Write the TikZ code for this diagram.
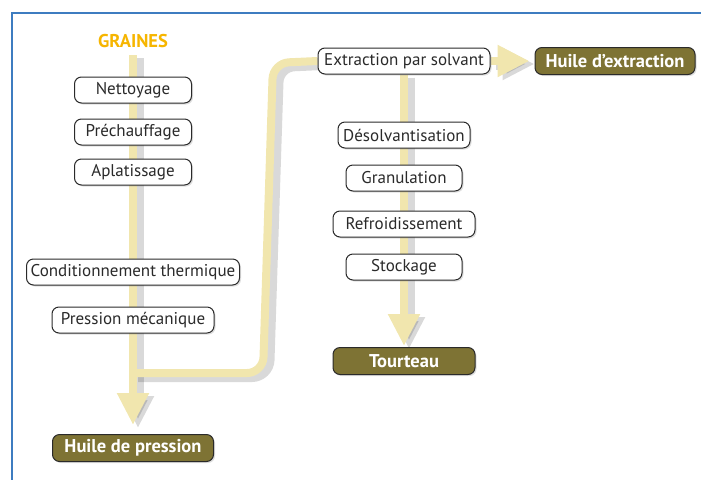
\documentclass[tikz,border=0pt]{standalone}
\usepackage{fontspec}
\setmainfont{PT Sans}
\usetikzlibrary{positioning}
\usetikzlibrary{arrows.meta}
\usetikzlibrary{shadows}
\usetikzlibrary{backgrounds}

\definecolor{pipe}{HTML}{F1E6AE}
\definecolor{olive}{HTML}{7E7334}
\definecolor{grainorange}{HTML}{F6B500}
\definecolor{frameblue}{HTML}{3D7CC0}
\definecolor{boxline}{HTML}{2A2A2A}

\tikzset{
  stage/.style={draw=boxline, line width=1pt, fill=white, rounded corners=7pt, inner sep=2pt,
    minimum height=26pt, text=boxline, font=\fontsize{17}{20}\selectfont,
    drop shadow={shadow xshift=1.5pt, shadow yshift=-1.5pt, opacity=0.25}},
  product/.style={draw=boxline, line width=1pt, fill=olive, rounded corners=7pt, inner sep=2pt,
    minimum height=27pt, text=white, font=\bfseries\fontsize{18.5}{21}\selectfont,
    drop shadow={shadow xshift=1.5pt, shadow yshift=-1.5pt, opacity=0.25}},
  pipeline/.style={draw=pipe, line width=8pt},
  pipeshade/.style={draw=black, opacity=0.15, line width=12pt,
    transform canvas={xshift=5pt, yshift=-3pt}},
  bigtip/.style={-{Triangle[length=32pt, width=30pt]}}
}

\begin{document}
\begin{tikzpicture}[x=1pt, y=-1pt, node distance=42pt]
  \useasboundingbox (0,0) rectangle (701,480);
  \draw[frameblue, line width=2.5pt] (701,13) -| (12,480);

  % left column: pressing
  \node[text=grainorange, font=\bfseries\fontsize{18.5}{21}\selectfont] (graines) at (133,41) {GRAINES};
  \node[stage, minimum width=117pt, below of=graines, yshift=-7pt] (nett) {Nettoyage};
  \node[stage, minimum width=117pt, below of=nett] (prech) {Préchauffage};
  \node[stage, minimum width=117pt, below of=prech, yshift=2pt] (aplat) {Aplatissage};
  \node[stage, minimum width=213pt, below of=aplat, yshift=-58pt] (cond) {Conditionnement thermique};
  \node[stage, minimum width=162pt, below of=cond, yshift=-6pt] (press) {Pression mécanique};
  \node[product, minimum width=161pt, below of=press, yshift=-86pt] (huilep) {Huile de pression};

  % right column: extraction
  \node[stage, minimum width=172pt] (extr) at (404,61) {Extraction par solvant};
  \node[product, minimum width=160pt, right of=extr, xshift=169pt] (huilex) {Huile d’extraction};
  \node[stage, minimum width=132pt, below of=extr, yshift=-32pt] (desolv) {Désolvantisation};
  \node[stage, minimum width=116pt, below of=desolv, yshift=-1pt] (gran) {Granulation};
  \node[stage, minimum width=142pt, below of=gran, yshift=-4pt] (refr) {Refroidissement};
  \node[stage, minimum width=116pt, below of=refr, yshift=-1pt] (stock) {Stockage};
  \node[product, minimum width=142pt, below of=stock, yshift=-52pt] (tourteau) {Tourteau};

  \coordinate (fork) at (133,373);

  \begin{scope}[on background layer]
    \draw[pipeshade, bigtip, shorten <=4pt, shorten >=9pt] (graines.south) -- (huilep.north);
    \draw[pipeshade, rounded corners=16pt] (fork) -- (263,373) -- (273,63) -- (extr.west);
    \draw[pipeshade, bigtip, shorten >=1pt] (extr.south) -- (tourteau.north);
    \draw[pipeshade, bigtip, shorten >=5pt] (extr.east) -- (huilex.west);

    \draw[pipeline, bigtip, shorten <=4pt, shorten >=9pt] (graines.south) -- (huilep.north);
    \draw[pipeline, rounded corners=16pt] (fork) -- (263,373) -- (273,63) -- (extr.west);
    \draw[pipeline, bigtip, shorten >=1pt] (extr.south) -- (tourteau.north);
    \draw[pipeline, bigtip, shorten >=5pt] (extr.east) -- (huilex.west);
  \end{scope}
\end{tikzpicture}
\end{document}
